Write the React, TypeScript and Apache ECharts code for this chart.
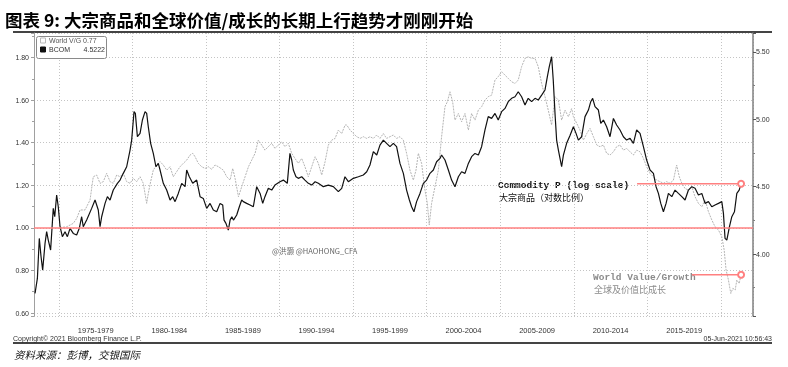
import React, { useEffect, useRef } from 'react';
import * as echarts from 'echarts';

const TITLE = '图表 9: 大宗商品和全球价值/成长的长期上行趋势才刚刚开始';
const SOURCE = '资料来源：彭博，交银国际';
const COPYRIGHT = 'Copyright© 2021 Bloomberg Finance L.P.';
const TIMESTAMP = '05-Jun-2021 10:56:43';
const WATERMARK = '@洪灏 @HAOHONG_CFA';

const PERIOD_LABELS = ['1975-1979', '1980-1984', '1985-1989', '1990-1994', '1995-1999', '2000-2004', '2005-2009', '2010-2014', '2015-2019'];
const LEGEND_NAMES = ['World V/G', 'BCOM'];
const LEGEND_VALUES = ['0.77', '4.5222'];

// BCOM (log of index), right axis: [year, value]
const BCOM: number[][] = [
  [1973.37,3.708],[1973.53,3.819],[1973.66,4.116],[1973.78,3.980],[1973.89,3.881],[1974.05,4.079],[1974.16,4.166],[1974.27,4.104],[1974.43,4.030],[1974.61,4.339],[1974.71,4.277],[1974.84,4.438],[1974.95,4.351],
  [1975.07,4.203],[1975.23,4.129],[1975.41,4.166],[1975.57,4.129],[1975.75,4.191],[1975.97,4.153],[1976.20,4.141],[1976.38,4.191],[1976.54,4.277],[1976.65,4.203],[1976.88,4.252],[1977.22,4.339],[1977.45,4.401],[1977.67,4.327],[1977.79,4.203],[1977.90,4.277],[1978.13,4.376],[1978.29,4.426],[1978.47,4.401],[1978.69,4.475],[1978.97,4.525],[1979.15,4.549],[1979.37,4.599],[1979.60,4.648],[1979.83,4.772],[1979.94,4.846],
  [1980.10,5.057],[1980.19,5.044],[1980.33,4.871],[1980.51,4.896],[1980.67,4.995],[1980.85,5.057],[1980.96,5.044],[1981.07,4.945],[1981.23,4.822],[1981.41,4.747],[1981.59,4.648],[1981.75,4.673],[1981.87,4.624],[1982.09,4.525],[1982.32,4.475],[1982.55,4.401],[1982.73,4.426],[1982.89,4.389],[1983.11,4.450],[1983.34,4.525],[1983.57,4.500],[1983.68,4.624],[1983.86,4.574],[1984.09,4.525],[1984.36,4.549],[1984.59,4.426],[1984.81,4.413],
  [1985.04,4.339],[1985.27,4.376],[1985.49,4.327],[1985.72,4.314],[1985.95,4.376],[1986.13,4.364],[1986.22,4.252],[1986.35,4.228],[1986.51,4.178],[1986.63,4.252],[1986.75,4.277],[1986.86,4.252],[1987.08,4.290],[1987.26,4.351],[1987.42,4.401],[1987.53,4.389],[1987.76,4.376],[1987.99,4.364],[1988.21,4.351],[1988.44,4.500],[1988.67,4.450],[1988.85,4.376],[1989.00,4.426],[1989.23,4.488],[1989.46,4.475],[1989.68,4.512],
  [1990.02,4.537],[1990.25,4.549],[1990.52,4.525],[1990.70,4.747],[1990.82,4.698],[1990.93,4.624],[1991.11,4.574],[1991.27,4.562],[1991.50,4.574],[1991.72,4.549],[1991.95,4.525],[1992.18,4.512],[1992.41,4.537],[1992.63,4.525],[1992.97,4.500],[1993.31,4.512],[1993.65,4.500],[1993.99,4.463],[1994.22,4.488],[1994.44,4.574],[1994.67,4.537],
  [1995.01,4.562],[1995.35,4.574],[1995.69,4.587],[1995.92,4.611],[1996.14,4.661],[1996.37,4.760],[1996.60,4.735],[1996.82,4.809],[1997.05,4.846],[1997.27,4.822],[1997.50,4.797],[1997.73,4.822],[1997.95,4.797],[1998.18,4.673],[1998.41,4.599],[1998.63,4.475],[1998.82,4.401],[1998.97,4.351],[1999.13,4.314],[1999.31,4.389],[1999.54,4.450],[1999.77,4.525],
  [1999.99,4.549],[2000.22,4.599],[2000.45,4.624],[2000.67,4.685],[2000.90,4.710],[2001.01,4.735],[2001.24,4.698],[2001.47,4.624],[2001.69,4.549],[2001.92,4.500],[2002.15,4.574],[2002.37,4.611],[2002.60,4.599],[2002.83,4.673],[2003.05,4.723],[2003.28,4.747],[2003.51,4.735],[2003.73,4.797],[2003.96,4.921],[2004.18,5.020],[2004.41,5.007],[2004.64,5.044],[2004.86,4.995],
  [2005.09,5.057],[2005.32,5.081],[2005.54,5.131],[2005.77,5.156],[2006.00,5.168],[2006.22,5.205],[2006.45,5.168],[2006.68,5.106],[2006.90,5.156],[2007.13,5.131],[2007.36,5.156],[2007.58,5.143],[2007.81,5.180],[2008.04,5.218],[2008.20,5.317],[2008.33,5.391],[2008.49,5.465],[2008.60,5.292],[2008.72,5.044],[2008.83,4.846],[2008.95,4.772],[2009.06,4.710],[2009.17,4.648],[2009.29,4.735],[2009.51,4.822],[2009.74,4.880],
  [2009.97,4.945],[2010.15,4.896],[2010.31,4.846],[2010.53,4.871],[2010.76,5.020],[2010.99,5.069],[2011.15,5.131],[2011.28,5.156],[2011.44,5.094],[2011.67,5.069],[2011.83,4.970],[2012.01,4.995],[2012.23,4.945],[2012.46,4.871],[2012.69,5.007],[2012.91,4.958],[2013.14,4.921],[2013.37,4.871],[2013.59,4.846],[2013.82,4.859],[2014.05,4.822],[2014.27,4.921],[2014.50,4.896],[2014.73,4.797],[2014.95,4.698],
  [2015.18,4.624],[2015.41,4.599],[2015.59,4.500],[2015.75,4.450],[2015.91,4.376],[2016.09,4.314],[2016.27,4.376],[2016.43,4.450],[2016.66,4.426],[2016.88,4.475],[2017.11,4.450],[2017.34,4.426],[2017.56,4.401],[2017.79,4.475],[2018.02,4.500],[2018.24,4.488],[2018.47,4.438],[2018.70,4.450],[2018.92,4.376],[2019.15,4.389],[2019.38,4.351],[2019.60,4.364],[2019.83,4.376],
  [2020.06,4.389],[2020.17,4.302],[2020.28,4.116],[2020.40,4.104],[2020.58,4.203],[2020.74,4.277],[2020.92,4.314],[2021.08,4.450],[2021.24,4.475],[2021.37,4.5222],
];

// World Value/Growth ratio, left axis: [year, value]
const WORLD_VG: number[][] = [
  [1975.07,1.001],[1975.52,1.005],[1975.97,1.021],[1976.20,1.044],[1976.43,1.084],[1976.77,1.084],[1977.11,1.131],[1977.33,1.240],[1977.56,1.248],[1977.79,1.209],[1978.01,1.217],[1978.24,1.256],[1978.47,1.217],[1978.69,1.209],[1978.92,1.248],[1979.15,1.240],[1979.37,1.256],[1979.60,1.217],[1979.83,1.209],
  [1980.05,1.232],[1980.28,1.217],[1980.51,1.240],[1980.73,1.209],[1980.96,1.115],[1981.07,1.162],[1981.23,1.217],[1981.41,1.271],[1981.64,1.295],[1981.87,1.311],[1982.09,1.295],[1982.32,1.271],[1982.55,1.287],[1982.77,1.240],[1983.00,1.264],[1983.23,1.287],[1983.45,1.303],[1983.68,1.318],[1983.91,1.342],[1984.09,1.350],[1984.25,1.334],[1984.47,1.303],[1984.70,1.287],[1984.93,1.279],
  [1985.15,1.287],[1985.38,1.275],[1985.61,1.295],[1985.84,1.287],[1986.17,1.271],[1986.40,1.240],[1986.63,1.224],[1986.81,1.279],[1986.97,1.232],[1987.20,1.146],[1987.42,1.193],[1987.65,1.240],[1987.88,1.287],[1988.10,1.318],[1988.33,1.350],[1988.55,1.412],[1988.78,1.389],[1989.00,1.365],[1989.23,1.381],[1989.46,1.397],[1989.68,1.373],[1989.91,1.389],
  [1990.14,1.404],[1990.36,1.381],[1990.59,1.397],[1990.82,1.350],[1991.04,1.326],[1991.27,1.303],[1991.50,1.326],[1991.72,1.287],[1991.95,1.240],[1992.18,1.287],[1992.41,1.334],[1992.63,1.303],[1992.86,1.248],[1993.09,1.311],[1993.31,1.389],[1993.54,1.412],[1993.77,1.420],[1993.99,1.459],[1994.22,1.443],[1994.45,1.483],[1994.56,1.483],[1994.79,1.459],
  [1995.01,1.443],[1995.24,1.428],[1995.47,1.420],[1995.69,1.428],[1995.92,1.420],[1996.14,1.428],[1996.37,1.420],[1996.60,1.436],[1996.82,1.420],[1997.05,1.443],[1997.27,1.420],[1997.50,1.428],[1997.73,1.436],[1997.95,1.420],[1998.18,1.428],[1998.41,1.412],[1998.63,1.350],[1998.86,1.271],[1999.09,1.224],[1999.27,1.271],[1999.43,1.350],[1999.65,1.303],[1999.88,1.177],
  [2000.04,1.115],[2000.17,1.013],[2000.33,1.115],[2000.56,1.193],[2000.79,1.271],[2001.01,1.428],[2001.24,1.569],[2001.40,1.592],[2001.58,1.639],[2001.76,1.592],[2001.92,1.506],[2002.15,1.537],[2002.37,1.498],[2002.60,1.537],[2002.83,1.459],[2003.05,1.537],[2003.28,1.506],[2003.51,1.553],[2003.73,1.569],[2003.96,1.600],[2004.18,1.616],[2004.41,1.623],[2004.64,1.694],[2004.86,1.710],
  [2005.09,1.733],[2005.32,1.717],[2005.54,1.702],[2005.77,1.686],[2006.00,1.678],[2006.22,1.694],[2006.45,1.757],[2006.68,1.796],[2006.90,1.803],[2007.13,1.796],[2007.36,1.796],[2007.58,1.757],[2007.81,1.678],[2008.04,1.616],[2008.26,1.553],[2008.49,1.483],[2008.72,1.616],[2008.95,1.600],[2009.17,1.506],[2009.40,1.553],[2009.63,1.522],[2009.85,1.560],
  [2009.97,1.522],[2010.20,1.490],[2010.42,1.459],[2010.65,1.412],[2010.88,1.443],[2011.10,1.467],[2011.33,1.428],[2011.56,1.389],[2011.78,1.381],[2012.01,1.389],[2012.23,1.350],[2012.46,1.342],[2012.69,1.357],[2012.91,1.381],[2013.14,1.389],[2013.37,1.365],[2013.59,1.373],[2013.82,1.357],[2014.05,1.342],[2014.27,1.365],[2014.50,1.357],[2014.73,1.326],[2014.95,1.287],
  [2015.18,1.256],[2015.41,1.240],[2015.63,1.224],[2015.86,1.217],[2016.09,1.209],[2016.31,1.217],[2016.54,1.209],[2016.77,1.224],[2016.99,1.295],[2017.17,1.240],[2017.34,1.209],[2017.56,1.185],[2017.79,1.177],[2018.02,1.193],[2018.24,1.146],[2018.47,1.115],[2018.70,1.099],[2018.92,1.131],[2019.15,1.076],[2019.38,1.037],[2019.60,1.005],[2019.83,0.990],
  [2020.06,0.958],[2020.22,0.896],[2020.35,0.802],[2020.51,0.755],[2020.67,0.692],[2020.81,0.716],[2020.97,0.708],[2021.08,0.755],[2021.24,0.739],[2021.37,0.780],
];

const BASE_LINE = 1.0;
const BCOM_MARK_START = 2014.3;
const VG_MARK_START = 2018.03;

const X_MIN = 1973.3;
const X_MAX = 2022.18;

const RED = '#ff8080';
const LABEL_FONT = '"Liberation Sans", Arial, sans-serif';
const MONO_FONT = '"Liberation Mono", "DejaVu Sans Mono", monospace';

export default function App() {
  const ref = useRef<HTMLDivElement>(null);
  useEffect(() => {
    if (!ref.current) return;
    const chart = echarts.init(ref.current, undefined, { renderer: 'svg' });
    const bLast = BCOM[BCOM.length - 1];
    const vLast = WORLD_VG[WORLD_VG.length - 1];
    const periodCenters = PERIOD_LABELS.map((l) => parseInt(l, 10) + 2.5);
    const labelFor = (v: number) => {
      const i = periodCenters.findIndex((c) => Math.abs(c - v) < 0.01);
      return i >= 0 ? PERIOD_LABELS[i] : '';
    };
    const baseLabel = { fontSize: 7, color: '#333', fontFamily: LABEL_FONT, showMinLabel: false, showMaxLabel: false };
    const option: any = {
      animation: false,
      grid: { left: 34, right: 35, top: 33, bottom: 51 },
      xAxis: [
        {
          type: 'value', min: X_MIN, max: X_MAX, minInterval: 5, maxInterval: 5, splitNumber: 10,
          axisLine: { show: false }, axisTick: { show: false }, axisLabel: { show: false },
          splitLine: { show: true, lineStyle: { color: '#c4c4c4', type: [1, 2], width: 1 } },
        },
        {
          type: 'value', position: 'bottom', min: X_MIN, max: X_MAX,
          axisLine: { show: false }, axisTick: { show: false }, splitLine: { show: false },
          axisLabel: {
            customValues: periodCenters, formatter: (v: number) => labelFor(v),
            fontSize: 7.5, color: '#333', fontFamily: LABEL_FONT, margin: 10,
          },
        },
      ],
      yAxis: [
        {
          type: 'value', position: 'left', min: 0.586, max: 1.915, minInterval: 0.2, maxInterval: 0.2,
          axisLine: { show: true, lineStyle: { color: '#a0a0a0', width: 1 } },
          axisTick: { show: true, length: 3, lineStyle: { color: '#a0a0a0' } },
          minorTick: { show: true, splitNumber: 2, length: 2, lineStyle: { color: '#a0a0a0' } },
          splitLine: { show: true, lineStyle: { color: '#c4c4c4', type: [1, 2], width: 1 } },
          axisLabel: { ...baseLabel, margin: 5, formatter: (v: number) => v.toFixed(2) },
        },
        {
          type: 'value', position: 'right', min: 3.54, max: 5.641, minInterval: 0.5, maxInterval: 0.5,
          axisLine: { show: true, lineStyle: { color: '#808080', width: 1.5 } },
          axisTick: { show: true, length: 3, lineStyle: { color: '#555' } },
          minorTick: { show: true, splitNumber: 2, length: 2, lineStyle: { color: '#808080' } },
          splitLine: { show: false },
          axisLabel: { ...baseLabel, margin: 3, formatter: (v: number) => v.toFixed(2) },
        },
      ],
      series: [
        {
          type: 'line', name: LEGEND_NAMES[0], data: WORLD_VG, yAxisIndex: 0, showSymbol: false,
          lineStyle: { color: '#b4b4b4', width: 1, type: [2, 1] }, z: 2,
          markLine: {
            silent: true, symbol: ['none', 'none'], label: { show: false },
            lineStyle: { color: RED, width: 1.5, type: 'solid' },
            data: [{ yAxis: BASE_LINE }],
          },
        },
        {
          type: 'line', name: LEGEND_NAMES[1], data: BCOM, yAxisIndex: 1, showSymbol: false,
          lineStyle: { color: '#111', width: 1.2 }, z: 3,
        },
        {
          type: 'line', yAxisIndex: 1, symbol: 'emptyCircle', symbolSize: 6, showSymbol: true,
          data: [{ value: [BCOM_MARK_START, bLast[1]], symbol: 'none' }, { value: [bLast[0], bLast[1]] }],
          lineStyle: { color: RED, width: 1.5 }, itemStyle: { color: RED, borderColor: RED, borderWidth: 1 }, z: 4,
        },
        {
          type: 'line', yAxisIndex: 0, symbol: 'emptyCircle', symbolSize: 6, showSymbol: true,
          data: [{ value: [VG_MARK_START, vLast[1]], symbol: 'none' }, { value: [vLast[0], vLast[1]] }],
          lineStyle: { color: RED, width: 1.5 }, itemStyle: { color: RED, borderColor: RED, borderWidth: 1 }, z: 4,
        },
      ],
      graphic: [
        { type: 'text', x: 5, y: 19, style: { text: TITLE, fontSize: 17.5, fontWeight: 'bold', fontFamily: '"Noto Sans CJK SC"', fill: '#000', verticalAlign: 'middle' } },
        { type: 'line', shape: { x1: 13, y1: 32, x2: 772, y2: 32 }, style: { stroke: '#444', lineWidth: 2 } },
        { type: 'line', shape: { x1: 13, y1: 343, x2: 772, y2: 343 }, style: { stroke: '#444', lineWidth: 2 } },
        // legend box
        { type: 'rect', shape: { x: 36.5, y: 36.5, width: 70, height: 22, r: 2 }, style: { fill: '#fff', stroke: '#8a8a8a', lineWidth: 1 }, z: 10 },
        { type: 'rect', shape: { x: 40.5, y: 38, width: 5, height: 5 }, style: { fill: '#fff', stroke: '#bbb', lineWidth: 1 }, z: 11 },
        { type: 'rect', shape: { x: 40.5, y: 47, width: 5, height: 5 }, style: { fill: '#111', stroke: '#111', lineWidth: 1 }, z: 11 },
        { type: 'text', x: 49, y: 40.5, z: 11, style: { text: LEGEND_NAMES[0], fontSize: 7, fontFamily: LABEL_FONT, fill: '#555', verticalAlign: 'middle' } },
        { type: 'text', x: 83, y: 40.5, z: 11, style: { text: LEGEND_VALUES[0], fontSize: 7, fontFamily: LABEL_FONT, fill: '#555', verticalAlign: 'middle' } },
        { type: 'text', x: 49, y: 49.5, z: 11, style: { text: LEGEND_NAMES[1], fontSize: 7, fontFamily: LABEL_FONT, fill: '#333', verticalAlign: 'middle' } },
        { type: 'text', x: 105, y: 49.5, z: 11, style: { text: LEGEND_VALUES[1], fontSize: 7, fontFamily: LABEL_FONT, fill: '#333', verticalAlign: 'middle', align: 'right' } },
        // watermark
        { type: 'text', x: 272, y: 250, style: { text: WATERMARK, fontSize: 7.5, fontFamily: '"Noto Sans CJK SC"', fill: '#666', verticalAlign: 'middle' } },
        // annotations
        { type: 'text', x: 498, y: 185, style: { text: 'Commodity P (log scale)', fontSize: 9.5, fontWeight: 'bold', fontFamily: MONO_FONT, fill: '#111', verticalAlign: 'middle' } },
        { type: 'text', x: 499, y: 197, style: { text: '大宗商品（对数比例）', fontSize: 9, fontFamily: '"Noto Sans CJK SC"', fill: '#111', verticalAlign: 'middle' } },
        { type: 'text', x: 593, y: 277, style: { text: 'World Value/Growth', fontSize: 9.5, fontWeight: 'bold', fontFamily: MONO_FONT, fill: '#8a8a8a', verticalAlign: 'middle' } },
        { type: 'text', x: 594, y: 289, style: { text: '全球及价值比成长', fontSize: 9, fontFamily: '"Noto Sans CJK SC"', fill: '#8a8a8a', verticalAlign: 'middle' } },
        // footer
        { type: 'text', x: 13, y: 338.5, style: { text: COPYRIGHT, fontSize: 7, fontFamily: LABEL_FONT, fill: '#333', verticalAlign: 'middle' } },
        { type: 'text', x: 772, y: 338.5, style: { text: TIMESTAMP, fontSize: 7, fontFamily: LABEL_FONT, fill: '#333', verticalAlign: 'middle', align: 'right' } },
        { type: 'text', x: 14, y: 354, style: { text: SOURCE, fontSize: 10.5, fontStyle: 'italic', fontFamily: '"Noto Sans CJK SC"', fill: '#111', verticalAlign: 'middle' } },
      ],
    };
    chart.setOption(option);
    return () => chart.dispose();
  }, []);
  return <div ref={ref} style={{ position: 'fixed', left: 0, top: 0, width: 788, height: 367 }} />;
}
